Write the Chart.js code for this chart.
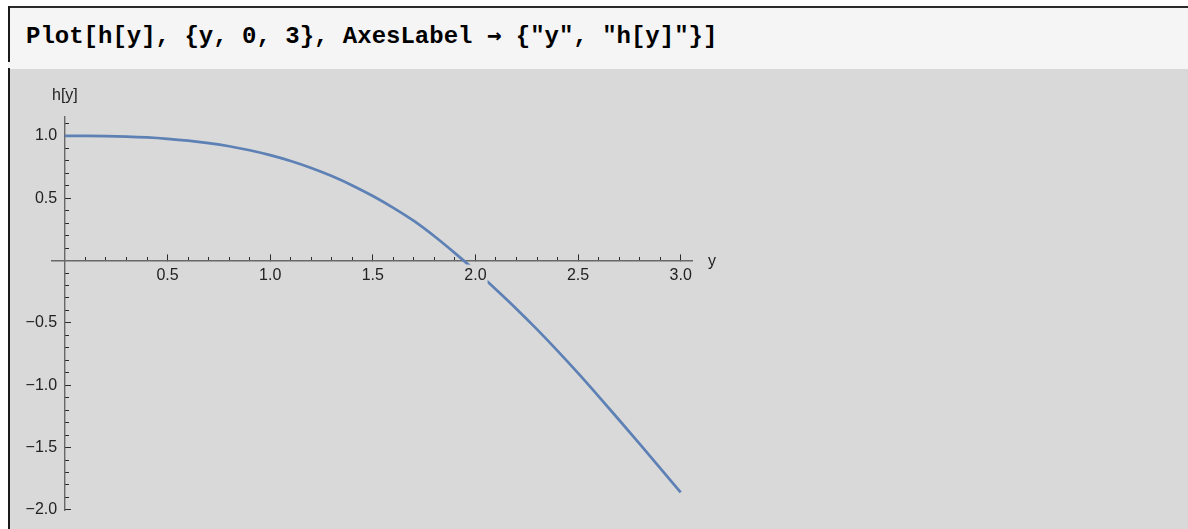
<!DOCTYPE html>
<html><head><meta charset="utf-8">
<script src="https://cdn.jsdelivr.net/npm/chart.js@4"></script>
<style>
html,body{margin:0;padding:0;width:1188px;height:529px;overflow:hidden;background:#fff;}
#hdr{position:absolute;left:8px;top:6px;width:1180px;height:63px;background:#f5f5f5;border-top:2px solid #2b2b2b;box-sizing:border-box;}
#hdrbar{position:absolute;left:8px;top:6px;width:2px;height:56px;background:#1a1a1a;}
#out{position:absolute;left:8px;top:69px;width:1180px;height:460px;background:#d9d9d9;}
#outbar{position:absolute;left:8px;top:68px;width:2px;height:461px;background:#1a1a1a;}
#code{position:absolute;left:26px;top:23px;font:bold 24px "Liberation Mono","DejaVu Sans Mono",monospace;line-height:24px;white-space:pre;color:#000;}
#code .ar{font-family:"DejaVu Sans Mono",monospace;font-weight:bold;}
#c{position:absolute;left:0;top:0;}
.al{position:absolute;font:16px "Liberation Sans",Arial,sans-serif;line-height:16px;color:#222;white-space:pre;}
</style></head>
<body>
<div id="hdr"></div><div id="hdrbar"></div>
<div id="out"></div><div id="outbar"></div>
<div id="code">Plot[h[y], {y, 0, 3}, AxesLabel <span class="ar">→</span> {"y", "h[y]"}]</div>
<canvas id="c" width="1188" height="529"></canvas>
<div class="al" id="ylab" style="left:52px;top:87px;">h[y]</div>
<div class="al" id="xlab" style="left:708px;top:253px;">y</div>
<script>
// ---- data ----
const xValues = [0.0,0.1,0.2,0.3,0.4,0.5,0.6,0.7,0.8,0.9,1.0,1.1,1.2,1.3,1.4,1.5,1.6,1.7,1.8,1.9,2.0,2.1,2.2,2.3,2.4,2.5,2.6,2.7,2.8,2.9,3.0];
const hValues = [1.000,1.000,0.999,0.995,0.988,0.977,0.962,0.942,0.917,0.885,0.846,0.799,0.743,0.678,0.603,0.518,0.423,0.318,0.195,0.060,-0.082,-0.232,-0.388,-0.552,-0.724,-0.903,-1.089,-1.279,-1.471,-1.665,-1.860];
const xMajorTicks = [0.5,1.0,1.5,2.0,2.5,3.0];
const xMinorTicks = [0.1,0.2,0.3,0.4,0.6,0.7,0.8,0.9,1.1,1.2,1.3,1.4,1.6,1.7,1.8,1.9,2.1,2.2,2.3,2.4,2.6,2.7,2.8,2.9];
const yMajorTicks = [1.0,0.5,-0.5,-1.0,-1.5,-2.0];
const yMinorTicks = [1.1,0.9,0.8,0.7,0.6,0.4,0.3,0.2,0.1,-0.1,-0.2,-0.3,-0.4,-0.6,-0.7,-0.8,-0.9,-1.1,-1.2,-1.3,-1.4,-1.6,-1.7,-1.8,-1.9];
const xRange = [-0.063, 3.055];
const yRange = [-2.005, 1.152];

const fmt = v => v.toFixed(1).replace('-', '\u2212');
const setTicks = arr => s => { s.ticks = arr.map(v => ({value: v})); };
const noH = s => { s.height = 0; };
const noW = s => { s.width = 0; };
const labelFont = {family: '"Liberation Sans", Arial, sans-serif', size: 16};

new Chart(document.getElementById('c'), {
  type: 'line',
  data: {
    datasets: [{
      data: xValues.map((x, i) => ({x: x, y: hValues[i]})),
      borderColor: '#5e81b5',
      borderWidth: 2.7,
      pointRadius: 0,
      fill: false,
      cubicInterpolationMode: 'monotone',
      xAxisID: 'x',
      yAxisID: 'y'
    }]
  },
  options: {
    responsive: false,
    maintainAspectRatio: false,
    animation: false,
    events: [],
    layout: {padding: {left: 52, top: 117, right: 496, bottom: 18.5}},
    plugins: {legend: {display: false}, tooltip: {enabled: false}},
    scales: {
      x: {
        type: 'linear', min: xRange[0], max: xRange[1], position: {y: 0},
        afterBuildTicks: setTicks(xMajorTicks), afterFit: noH,
        ticks: {display: false},
        grid: {drawOnChartArea: false, drawTicks: true, tickLength: -7, tickColor: '#2a2a2a', tickWidth: 1},
        border: {display: true, color: '#686868', width: 1.4}
      },
      x2: {
        type: 'linear', min: xRange[0], max: xRange[1], position: {y: 0},
        afterBuildTicks: setTicks(xMinorTicks), afterFit: noH,
        ticks: {display: false},
        grid: {drawOnChartArea: false, drawTicks: true, tickLength: -4, tickColor: '#2a2a2a', tickWidth: 1},
        border: {display: false}
      },
      xl: {
        type: 'linear', min: xRange[0], max: xRange[1], position: {y: 0},
        afterBuildTicks: setTicks(xMajorTicks), afterFit: noH,
        ticks: {display: true, z: 1, callback: fmt, font: labelFont, color: '#222', padding: 5, maxRotation: 0, autoSkip: false,
                showLabelBackdrop: true, backdropColor: '#d9d9d9', backdropPadding: 1},
        grid: {display: false, drawTicks: false},
        border: {display: false}
      },
      y: {
        type: 'linear', min: yRange[0], max: yRange[1], position: {x: 0},
        afterBuildTicks: setTicks(yMajorTicks), afterFit: noW,
        ticks: {display: false},
        grid: {drawOnChartArea: false, drawTicks: true, tickLength: -7, tickColor: '#2a2a2a', tickWidth: 1},
        border: {display: true, color: '#686868', width: 1.4}
      },
      y2: {
        type: 'linear', min: yRange[0], max: yRange[1], position: {x: 0},
        afterBuildTicks: setTicks(yMinorTicks), afterFit: noW,
        ticks: {display: false},
        grid: {drawOnChartArea: false, drawTicks: true, tickLength: -4, tickColor: '#2a2a2a', tickWidth: 1},
        border: {display: false}
      },
      yl: {
        type: 'linear', min: yRange[0], max: yRange[1], position: {x: -0.038},
        afterBuildTicks: setTicks(yMajorTicks), afterFit: noW,
        ticks: {display: true, callback: fmt, font: labelFont, color: '#222', padding: 0, autoSkip: false},
        grid: {display: false, drawTicks: false},
        border: {display: false}
      }
    }
  }
});
</script>
</body></html>
